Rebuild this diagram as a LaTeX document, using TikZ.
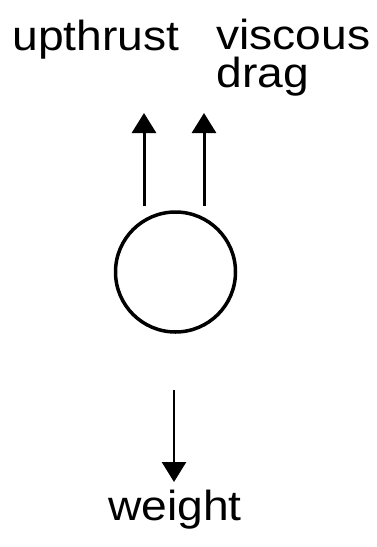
\documentclass[tikz,border=0pt]{standalone}
\usepackage{fontspec}
\setmainfont{Liberation Sans}
\usetikzlibrary{arrows.meta}
\newcommand\stretchtxt[1]{\scalebox{1.1}[1]{#1}}
\tikzset{
  force/.style={line width=1.5pt,-{Triangle[length=10pt,width=12pt]}},
  lbl/.style={inner sep=0pt,font=\fontsize{21}{19}\selectfont}
}
\begin{document}
\begin{tikzpicture}[x=0.5pt,y=-0.5pt]
\useasboundingbox (0,0) rectangle (376,547);
\node[draw,circle,line width=1.75pt,minimum size=60pt,inner sep=0pt] (ball) at (175.5,272) {};
\node[lbl,anchor=base west] (up) at (12,50) {\stretchtxt{upthrust}};
\node[lbl,anchor=base west,align=left] (drag) at (216,87) {\stretchtxt{viscous}\\\stretchtxt{drag}};
\node[lbl,anchor=base] (wt) at (175,520) {\stretchtxt{weight}};
\coordinate (u1) at (144,206);
\coordinate (u2) at (204,206);
\coordinate (d1) at (174,390);
\draw[force] (u1) -- ++(0,-93);
\draw[force] (u2) -- ++(0,-93);
\draw[force,line width=1.3pt] (d1) -- ++(0,92);
\end{tikzpicture}
\end{document}
